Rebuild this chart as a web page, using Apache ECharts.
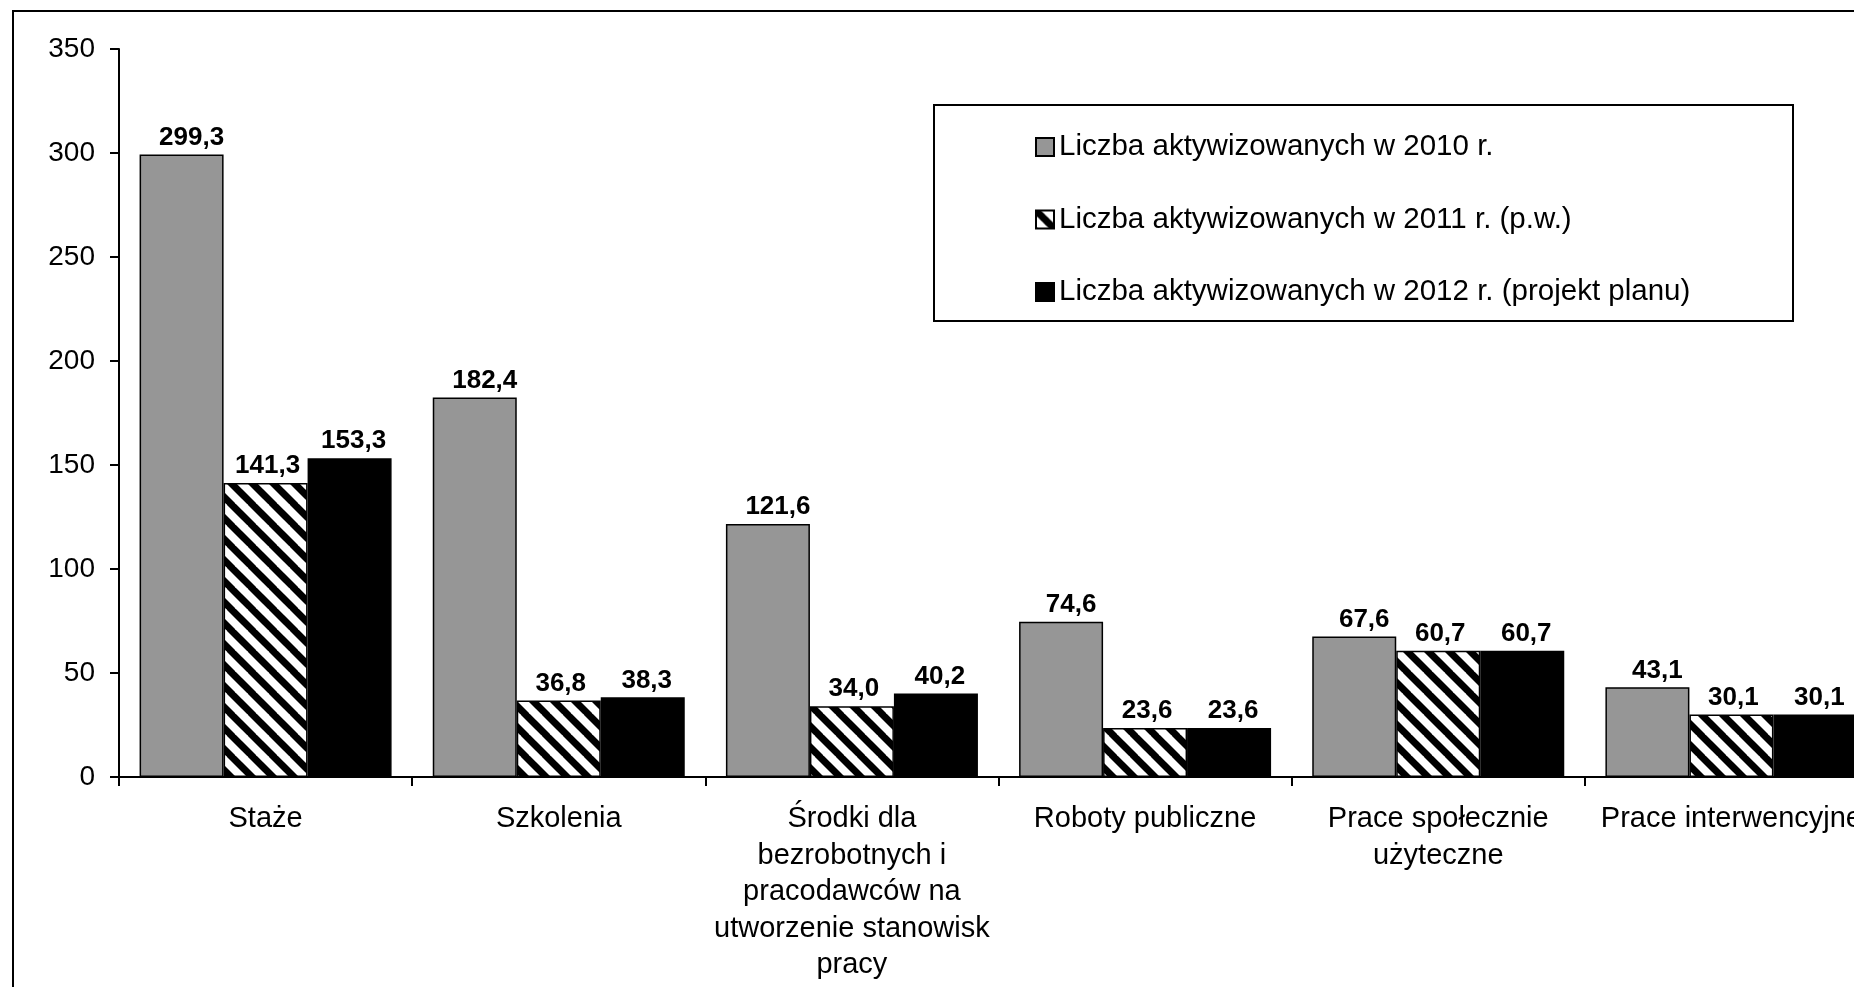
<!DOCTYPE html>
<html>
<head>
<meta charset="utf-8">
<script src="https://cdn.jsdelivr.net/npm/echarts@6/dist/echarts.min.js"></script>
<style>
html,body{margin:0;padding:0;background:#fff;}
#chart{width:1854px;height:987px;}
</style>
</head>
<body>
<div id="chart"></div>
<script>
const categories = [
  'Staże',
  'Szkolenia',
  'Środki dla\nbezrobotnych i\npracodawców na\nutworzenie stanowisk\npracy',
  'Roboty publiczne',
  'Prace społecznie\nużyteczne',
  'Prace interwencyjne'
];
const seriesNames = [
  'Liczba aktywizowanych w 2010 r.',
  'Liczba aktywizowanych w 2011 r. (p.w.)',
  'Liczba aktywizowanych w 2012 r. (projekt planu)'
];
const values2010 = [299.3, 182.4, 121.6, 74.6, 67.6, 43.1];
const values2011 = [141.3, 36.8, 34.0, 23.6, 60.7, 30.1];
const values2012 = [153.3, 38.3, 40.2, 23.6, 60.7, 30.1];
const yTicks = [0, 50, 100, 150, 200, 250, 300, 350];

function hatch() {
  const s = 21;
  const c = document.createElement('canvas');
  c.width = s; c.height = s;
  const g = c.getContext('2d');
  g.fillStyle = '#fff';
  g.fillRect(0, 0, s, s);
  g.strokeStyle = '#000';
  g.lineWidth = 7;
  for (const k of [-s, 0, s]) {
    g.beginPath();
    g.moveTo(k - 2, -2);
    g.lineTo(k + s + 2, s + 2);
    g.stroke();
  }
  return c;
}

const FONT = "'Liberation Sans', Arial, sans-serif";

const chart = echarts.init(document.getElementById('chart'), null, {renderer: 'canvas'});

const labelOffsets = [[10, 0], [2, 0], [4, 0]];
const colors = ['#969696', {image: hatch(), repeat: 'repeat'}, '#000000'];
const data = [values2010, values2011, values2012];

chart.setOption({
  animation: false,
  backgroundColor: '#fff',
  textStyle: {fontFamily: FONT},
  graphic: [
    {type: 'rect', shape: {x: 13, y: 11, width: 1900, height: 1000},
     style: {fill: 'none', stroke: '#000', lineWidth: 2}, z: 0, silent: true},
    {type: 'rect', shape: {x: 934, y: 105, width: 859, height: 216},
     style: {fill: '#fff', stroke: '#000', lineWidth: 2}, z: 5, silent: true}
  ],
  legend: {
    orient: 'vertical',
    left: 1035,
    top: 132,
    padding: 0,
    itemWidth: 18,
    itemHeight: 18,
    itemGap: 42.5,
    icon: 'rect',
    z: 10,
    textStyle: {fontSize: 29.5, color: '#000', fontFamily: FONT},
    data: seriesNames
  },
  grid: {left: 119, top: 49, width: 1759, height: 728, outerBoundsMode: 'none', containLabel: false},
  xAxis: {
    type: 'category',
    data: categories,
    axisLine: {lineStyle: {color: '#000', width: 2}},
    axisTick: {show: true, length: 9, lineStyle: {color: '#000', width: 2}},
    axisLabel: {interval: 0, margin: 24, color: '#000', fontSize: 29, lineHeight: 36.5, fontFamily: FONT, align: 'center'},
    splitLine: {show: false}
  },
  yAxis: {
    type: 'value',
    min: yTicks[0],
    max: yTicks[yTicks.length - 1],
    interval: yTicks[1] - yTicks[0],
    axisLine: {show: true, lineStyle: {color: '#000', width: 2}},
    axisTick: {show: true, length: 9, lineStyle: {color: '#000', width: 2}},
    axisLabel: {margin: 24, color: '#000', fontSize: 28, fontFamily: FONT},
    splitLine: {show: false}
  },
  series: seriesNames.map((name, i) => ({
    name: name,
    type: 'bar',
    data: data[i],
    barWidth: 84,
    barGap: '0%',
    itemStyle: {color: colors[i], borderColor: '#000', borderWidth: 1.5},
    label: {
      show: true,
      position: 'top',
      distance: 4,
      offset: labelOffsets[i],
      color: '#000',
      fontFamily: FONT,
      fontWeight: 'bold',
      fontSize: 26,
      formatter: p => p.value.toFixed(1).replace('.', ',')
    }
  }))
});
</script>
</body>
</html>
